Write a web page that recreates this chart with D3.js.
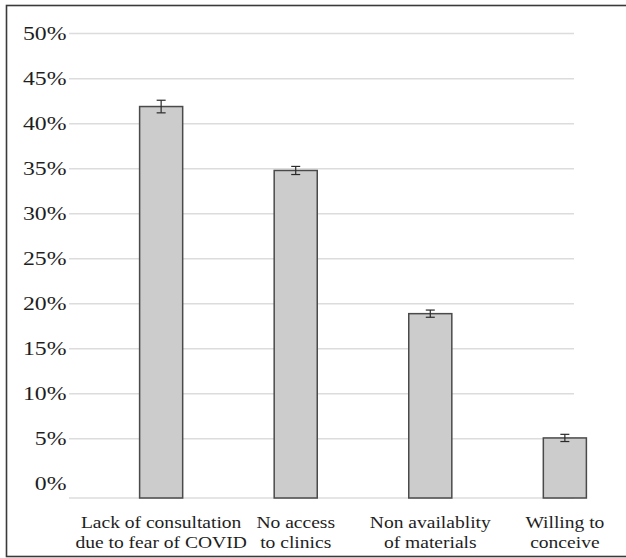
<!DOCTYPE html>
<html>
<head>
<meta charset="utf-8">
<script src="https://cdn.jsdelivr.net/npm/d3@7"></script>
<style>
  html, body { margin: 0; padding: 0; background: #fff; }
  svg { display: block; }
  text { font-family: "Liberation Serif", "Times New Roman", serif; fill: #1e1e1e; }
</style>
</head>
<body>
<svg id="chart" width="626" height="558"></svg>
<script>
// ---- data ----
const categories = ["Lack of consultation|due to fear of COVID", "No access|to clinics", "Non availablity|of materials", "Willing to|conceive"];
const values = [41.9, 34.8, 18.9, 5.1];
const errors = [0.7, 0.45, 0.4, 0.4];
const yTicks = [0, 5, 10, 15, 20, 25, 30, 35, 40, 45, 50];
const yTickLabels = ["0%", "5%", "10%", "15%", "20%", "25%", "30%", "35%", "40%", "45%", "50%"];

// ---- layout ----
const plotLeft = 69, plotRight = 574, plotBottom = 498, plotTop = 33.6;
const tickStretch = 1.22, catStretch = 1.15;

const svg = d3.select("#chart");

// outer frame (top, left, bottom visible)
svg.append("rect")
  .attr("x", 6.5).attr("y", 5.5)
  .attr("width", 640).attr("height", 551)
  .attr("fill", "none").attr("stroke", "#3a3a3a").attr("stroke-width", 1.6);

const y = d3.scaleLinear().domain([-1.57, 50]).range([plotBottom, plotTop]);
const x = d3.scaleBand().domain(categories)
  .range([plotLeft, 657]).paddingInner(0.68).paddingOuter(0.5247);

// gridlines (ticks above zero) and baseline
const g = svg.append("g");
g.selectAll("line.grid").data(yTicks.filter(t => t > 0)).join("line")
  .attr("class", "grid")
  .attr("x1", plotLeft).attr("x2", plotRight)
  .attr("y1", d => y(d)).attr("y2", d => y(d))
  .attr("stroke", "#dcdcdc").attr("stroke-width", 1.5);
g.append("line")
  .attr("x1", plotLeft).attr("x2", plotRight)
  .attr("y1", y.range()[0]).attr("y2", y.range()[0])
  .attr("stroke", "#dcdcdc").attr("stroke-width", 1.5);

// y tick labels
svg.append("g").selectAll("text").data(yTicks).join("text")
  .attr("transform", d => `translate(66.5,${y(d)}) scale(${tickStretch},1)`)
  .attr("text-anchor", "end")
  .attr("dy", "0.33em")
  .style("font-size", "19.5px")
  .text((d, i) => yTickLabels[i]);

// bars
svg.append("g").selectAll("rect").data(values).join("rect")
  .attr("x", (d, i) => x(categories[i]))
  .attr("width", x.bandwidth())
  .attr("y", d => y(d))
  .attr("height", d => y.range()[0] - y(d))
  .attr("fill", "#cccccc")
  .attr("stroke", "#4a4a4a")
  .attr("stroke-width", 1.5);

// error bars
const eb = svg.append("g").attr("stroke", "#2a2a2a").attr("stroke-width", 1.2);
values.forEach((v, i) => {
  const cx = x(categories[i]) + x.bandwidth() / 2;
  const hi = y(v + errors[i]), lo = y(v - errors[i]);
  eb.append("line").attr("x1", cx).attr("x2", cx).attr("y1", hi).attr("y2", lo);
  eb.append("line").attr("x1", cx - 4.5).attr("x2", cx + 4.5).attr("y1", hi).attr("y2", hi);
  eb.append("line").attr("x1", cx - 4.5).attr("x2", cx + 4.5).attr("y1", lo).attr("y2", lo);
});

// category labels (two lines each)
const cl = svg.append("g");
categories.forEach((c, i) => {
  const cx = x(c) + x.bandwidth() / 2;
  c.split("|").forEach((line, j) => {
    cl.append("text")
      .attr("transform", `translate(${cx},${528 + j * 19.5}) scale(${catStretch},1)`)
      .attr("text-anchor", "middle")
      .style("font-size", "17px")
      .text(line);
  });
});
</script>
</body>
</html>
